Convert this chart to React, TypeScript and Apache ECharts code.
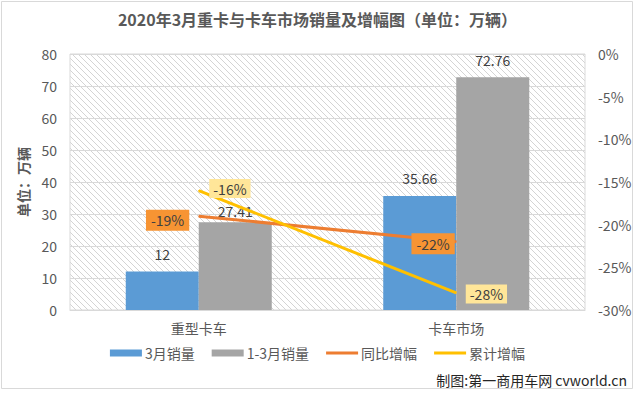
import React, { useEffect, useRef } from "react";
import * as echarts from "echarts";

const categories = ["重型卡车", "卡车市场"];
const marchSales = [12, 35.66];
const q1Sales = [27.41, 72.76];
const yoyGrowth = [-19, -22];
const cumGrowth = [-16, -28];
const leftTicks = { min: 0, max: 80, interval: 10 };
const rightTicks = { min: -30, max: 0, interval: 5 };

const FONT = "'Noto Sans CJK SC', 'Noto Sans', sans-serif";

function makeHatch(): string {
  const s = 6;
  const c = document.createElement("canvas");
  c.width = s;
  c.height = s;
  const ctx = c.getContext("2d")!;
  ctx.fillStyle = "#ffffff";
  ctx.fillRect(0, 0, s, s);
  ctx.strokeStyle = "#d4d4d4";
  ctx.lineWidth = 1;
  ctx.beginPath();
  ctx.moveTo(-1, -1);
  ctx.lineTo(s + 1, s + 1);
  ctx.moveTo(-1, s - 1);
  ctx.lineTo(1, s + 1);
  ctx.moveTo(s - 1, -1);
  ctx.lineTo(s + 1, 1);
  ctx.stroke();
  return c.toDataURL();
}

export default function App() {
  const ref = useRef<HTMLDivElement>(null);
  useEffect(() => {
    if (!ref.current) return;
    const chart = echarts.init(ref.current, null, { renderer: "svg" });
    const hatch = makeHatch();
    const yoyPos = [
      { position: "left", distance: 9, offset: [0, 4] },
      { position: "left", distance: 1, offset: [0, 2] },
    ];
    const cumPos = [
      { position: "right", distance: 10, offset: [0, -2] },
      { position: "right", distance: 9, offset: [0, 1] },
    ];
    const marchDist = [11, 11];
    const q1Dist = [4, 10];
    const barLabel = {
      show: true,
      position: "top",
      fontFamily: FONT,
      fontSize: 14,
      color: "#404040",
    };
    chart.setOption({
      animation: false,
      backgroundColor: "#ffffff",
      textStyle: { fontFamily: FONT },
      title: {
        text: "2020年3月重卡与卡车市场销量及增幅图（单位：万辆）",
        left: "center",
        top: 6,
        textStyle: { fontFamily: FONT, fontSize: 16, fontWeight: "bold", color: "#595959" },
      },
      grid: {
        left: 70,
        right: 50,
        top: 54,
        bottom: 85,
        show: true,
        borderColor: "#d9d9d9",
        borderWidth: 1,
        backgroundColor: { image: hatch, repeat: "repeat" },
      },
      legend: {
        bottom: 30,
        left: "center",
        itemWidth: 32,
        itemHeight: 7,
        itemGap: 17,
        textStyle: { fontFamily: FONT, fontSize: 14, color: "#595959", padding: [0, 0, 0, -2] },
        data: [
          { name: "3月销量", icon: "rect" },
          { name: "1-3月销量", icon: "rect" },
          { name: "同比增幅", icon: "path://M0,0h32v3h-32z" },
          { name: "累计增幅", icon: "path://M0,0h32v3h-32z" },
        ],
      },
      xAxis: {
        type: "category",
        data: categories,
        axisLine: { lineStyle: { color: "#d9d9d9" } },
        axisTick: { show: false },
        axisLabel: { fontFamily: FONT, fontSize: 14, color: "#595959", margin: 11 },
      },
      yAxis: [
        {
          type: "value",
          min: leftTicks.min,
          max: leftTicks.max,
          interval: leftTicks.interval,
          name: "单位：万辆",
          nameLocation: "middle",
          nameGap: 40,
          nameTextStyle: { fontFamily: FONT, fontSize: 14, fontWeight: "bold", color: "#595959" },
          axisLine: { show: false },
          axisTick: { show: false },
          axisLabel: { fontFamily: FONT, fontSize: 14, color: "#595959", margin: 13 },
          splitLine: { lineStyle: { color: "#d9d9d9" } },
        },
        {
          type: "value",
          min: rightTicks.min,
          max: rightTicks.max,
          interval: rightTicks.interval,
          axisLine: { show: false },
          axisTick: { show: false },
          axisLabel: { fontFamily: FONT, fontSize: 14, color: "#595959", margin: 13, formatter: "{value}%" },
          splitLine: { show: false },
        },
      ],
      series: [
        {
          name: "3月销量",
          type: "bar",
          data: marchSales.map((v, i) => ({ value: v, label: { ...barLabel, distance: marchDist[i] } })),
          barWidth: 73,
          barGap: "0%",
          itemStyle: { color: "#5b9bd5" },
        },
        {
          name: "1-3月销量",
          type: "bar",
          data: q1Sales.map((v, i) => ({ value: v, label: { ...barLabel, distance: q1Dist[i] } })),
          barWidth: 73,
          barGap: "0%",
          itemStyle: { color: "#a5a5a5" },
        },
        {
          name: "同比增幅",
          type: "line",
          yAxisIndex: 1,
          symbol: "circle",
          symbolSize: 1,
          lineStyle: { color: "#ed7d31", width: 3 },
          itemStyle: { color: "#ed7d31" },
          data: yoyGrowth.map((v, i) => ({
            value: v,
            label: {
              show: true,
              ...yoyPos[i],
              formatter: "{c}%",
              fontFamily: FONT,
              fontSize: 14,
              color: "#404040",
              backgroundColor: "#f79433",
              padding: [4, 5, 3, 5],
            },
          })),
        },
        {
          name: "累计增幅",
          type: "line",
          yAxisIndex: 1,
          symbol: "circle",
          symbolSize: 1,
          lineStyle: { color: "#ffc000", width: 3 },
          itemStyle: { color: "#ffc000" },
          data: cumGrowth.map((v, i) => ({
            value: v,
            label: {
              show: true,
              ...cumPos[i],
              formatter: "{c}%",
              fontFamily: FONT,
              fontSize: 14,
              color: "#404040",
              backgroundColor: "#ffe699",
              padding: [3, 4, 2, 4],
            },
          })),
        },
      ],
      graphic: [
        {
          type: "rect",
          shape: { x: 1.5, y: 1.5, width: 631, height: 387 },
          style: { fill: "none", stroke: "#d9d9d9", lineWidth: 1 },
          silent: true,
          z: -1,
        },
        {
          type: "text",
          right: 8,
          top: 373,
          style: {
            text: "制图:第一商用车网 cvworld.cn",
            fontFamily: FONT,
            fontSize: 14,
            fill: "#262626",
          },
        },
      ],
    });
    return () => chart.dispose();
  }, []);
  return (
    <div
      ref={ref}
      style={{ position: "absolute", left: 0, top: 0, width: 635, height: 395 }}
    />
  );
}
